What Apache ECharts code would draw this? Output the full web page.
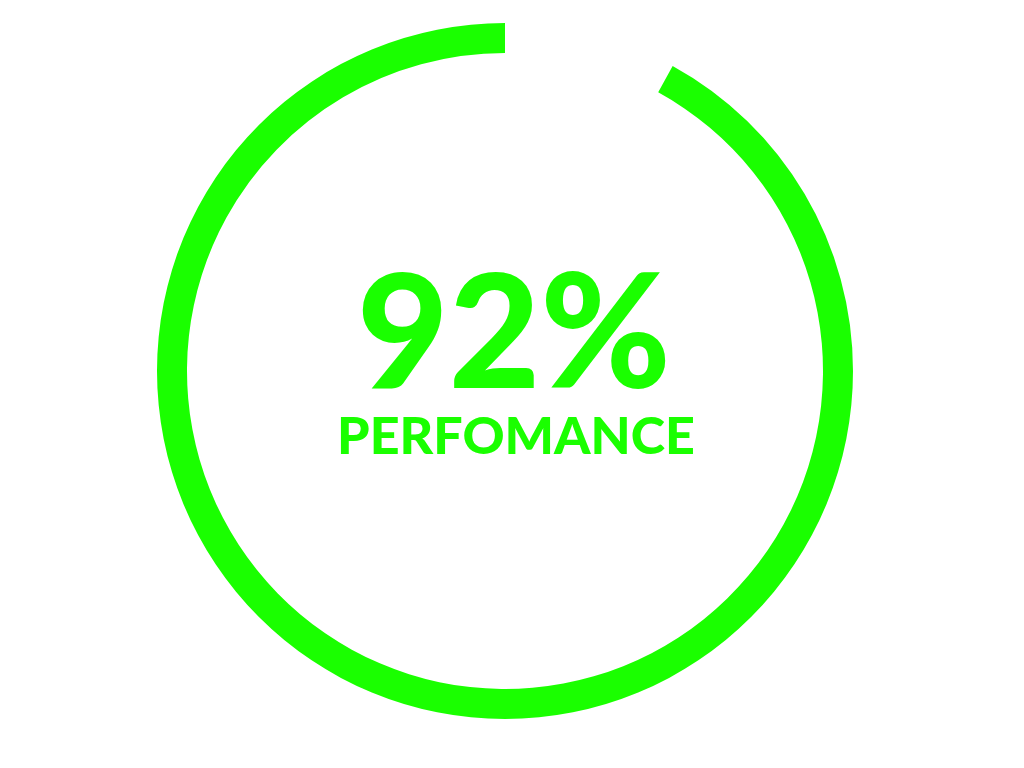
<!DOCTYPE html>
<html>
<head>
<meta charset="utf-8">
<script src="https://cdn.jsdelivr.net/npm/echarts@6/dist/echarts.min.js"></script>
<style>
html,body{margin:0;padding:0;background:#fff;}
#main{width:1024px;height:768px;}
</style>
</head>
<body>
<div id="main"></div>
<script>
const valuePercent = 92;
const remainder = [100 - valuePercent];
const labelName = 'PERFOMANCE';
const green = '#1aff00';

const chart = echarts.init(document.getElementById('main'));
chart.setOption({
  backgroundColor: '#ffffff',
  animation: false,
  series: [{
    type: 'pie',
    center: [505, 371],
    radius: [318, 348],
    startAngle: 90,
    clockwise: false,
    silent: true,
    label: { show: false },
    labelLine: { show: false },
    data: [
      { value: valuePercent, name: labelName, itemStyle: { color: green } },
      { value: remainder[0], name: 'rest', itemStyle: { color: 'rgba(0,0,0,0)' } }
    ]
  }],
  graphic: [
    {
      type: 'text',
      x: 514, y: 337,
      style: {
        text: valuePercent + '%',
        textAlign: 'center', textVerticalAlign: 'middle',
        fontSize: 158, fontWeight: 900, fontFamily: 'Lato',
        fill: green
      }
    },
    {
      type: 'text',
      x: 516, y: 437,
      style: {
        text: labelName,
        textAlign: 'center', textVerticalAlign: 'middle',
        fontSize: 52, fontWeight: 900, fontFamily: 'Lato',
        fill: green
      }
    }
  ]
});
</script>
</body>
</html>
